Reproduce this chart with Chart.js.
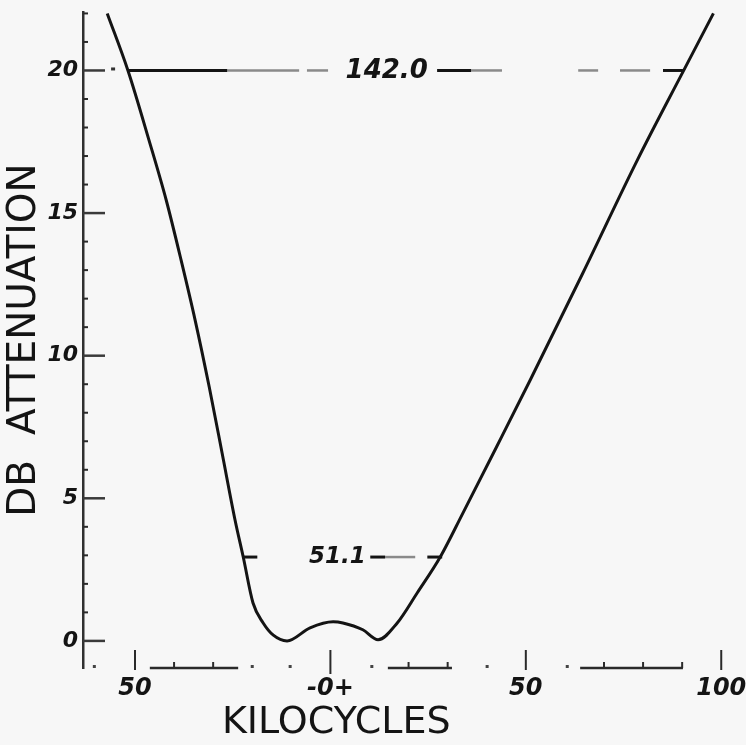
<!DOCTYPE html>
<html>
<head>
<meta charset="utf-8">
<title>DB attenuation vs kilocycles</title>
<script src="https://cdn.jsdelivr.net/npm/chart.js@4.4.1/dist/chart.umd.min.js"></script>
<style>
    html, body { margin: 0; padding: 0; background: #f7f7f7; }
    #wrap { position: relative; width: 746px; height: 745px; }
</style>
</head>
<body>
<div id="wrap"><canvas id="chart"></canvas></div>
<script>
(function () {
    'use strict';

    // ─── Data ────────────────────────────────────────────────────────────────
    // kilocycles off centre frequency / dB attenuation
    const curveKc = [-57.1, -51.8, -46.4, -42.0, -38.2, -34.6, -31.0, -27.7, -24.4, -22.3,
                     -19.8, -17.2, -14.6, -11.1, -5.2, 0.7, 3.2, 8.3, 12.2, 17.1,
                     22.2, 28.1, 33.9, 42.5, 51.1, 64.6, 78.5, 90.0, 98.0];
    const curveDb = [22.0, 20.0, 17.55, 15.45, 13.35, 11.24, 8.9, 6.58, 4.24, 2.94,
                     1.33, 0.63, 0.2, 0.0, 0.46, 0.67, 0.63, 0.39, 0.04, 0.63,
                     1.68, 2.94, 4.48, 6.8, 9.14, 12.9, 16.85, 19.9, 22.0];

    const xTickValues = [-50, 0, 50, 100];
    const xTickLabels = ['50', '-0+', '50', '100'];
    const xMinorTicks = [-40, -30, 20, 30, 70, 80, 90];
    const xAxisPieces = [[-46.2, -23.6], [14.7, 31.1], [63.9, 90.2]];
    const xAxisDots   = [-60.4, -20.0, -10.3, 10.6, 40.1, 60.6];

    const yTickValues  = [0, 1, 2, 3, 4, 5, 6, 7, 8, 9, 10, 11, 12, 13, 14, 15, 16, 17, 18, 19, 20, 21, 22];
    const yLabelValues = [0, 5, 10, 15, 20];

    // bandwidth markers
    const wideDb     = 20;
    const wideText   = '142.0';
    const wideTextKc = 14.4;
    const wideDark   = [[-51.8, -26.4], [27.3, 36.0], [85.1, 90.2]];
    const wideFaint  = [[-26.4, -8.0], [-6.0, -0.6], [36.0, 43.9], [63.4, 68.5], [74.1, 81.8]];

    const narrowDb     = 2.94;
    const narrowText   = '51.1';
    const narrowTextKc = 1.8;
    const narrowDark   = [[-22.3, -18.7], [10.2, 14.0], [24.8, 28.6]];
    const narrowFaint  = [[14.0, 21.7]];

    const X_MIN = -63.3, X_MAX = 104.8;
    const Y_MIN = -0.95, Y_MAX = 22.05;

    const INK   = '#141414';
    const FAINT = '#8a8a8a';
    const FONT  = "'DejaVu Sans', sans-serif";

    // ─── Hand-drawn bits: broken axis, inward ticks, markers ─────────────────
    function strokePieces(ctx, xs, yPix, pieces, color, width) {
        ctx.strokeStyle = color;
        ctx.lineWidth = width;
        pieces.forEach(p => {
            ctx.beginPath();
            ctx.moveTo(xs.getPixelForValue(p[0]), yPix);
            ctx.lineTo(xs.getPixelForValue(p[1]), yPix);
            ctx.stroke();
        });
    }

    const handDrawn = {
        id: 'handDrawn',
        afterDatasetsDraw(chart) {
            const { ctx, chartArea, scales: { x, y } } = chart;
            const base = chartArea.bottom;
            const left = chartArea.left;
            ctx.save();
            ctx.lineCap = 'butt';

            // kilocycle axis (only fragments survive)
            strokePieces(ctx, x, base, xAxisPieces, '#2a2a2a', 2.5);
            ctx.fillStyle = '#444';
            xAxisDots.forEach(k => ctx.fillRect(x.getPixelForValue(k) - 1.5, base - 3, 3, 3));

            ctx.strokeStyle = '#2a2a2a';
            ctx.lineWidth = 2;
            xTickValues.forEach(k => {
                const px = x.getPixelForValue(k);
                ctx.beginPath();
                ctx.moveTo(px, base - 18);
                ctx.lineTo(px, base + (k === 0 ? 6 : 2));
                ctx.stroke();
            });
            xMinorTicks.forEach(k => {
                const px = x.getPixelForValue(k);
                ctx.beginPath();
                ctx.moveTo(px, base - 6);
                ctx.lineTo(px, base);
                ctx.stroke();
            });

            // dB ticks pointing into the plot
            yTickValues.forEach(v => {
                const py = y.getPixelForValue(v);
                const major = yLabelValues.includes(v);
                ctx.strokeStyle = major ? '#3a3a3a' : '#2a2a2a';
                ctx.lineWidth = major ? 2.5 : 2;
                ctx.beginPath();
                ctx.moveTo(left, py);
                ctx.lineTo(left + (major ? 22 : 5), py);
                ctx.stroke();
            });

            // 142.0 kc at 20 dB
            const wy = y.getPixelForValue(wideDb);
            strokePieces(ctx, x, wy, wideFaint, FAINT, 2.5);
            strokePieces(ctx, x, wy, wideDark, INK, 3);
            ctx.fillStyle = '#333';
            ctx.fillRect(x.getPixelForValue(-55.6) - 2, wy - 3, 4, 3);

            // 51.1 kc at 3 dB
            const ny = y.getPixelForValue(narrowDb);
            strokePieces(ctx, x, ny, narrowFaint, FAINT, 2.5);
            strokePieces(ctx, x, ny, narrowDark, INK, 3);

            ctx.fillStyle = INK;
            ctx.textAlign = 'center';
            ctx.textBaseline = 'middle';
            ctx.font = 'italic bold 26px ' + FONT;
            ctx.fillText(wideText, x.getPixelForValue(wideTextKc), wy + 1);
            ctx.font = 'italic bold 23px ' + FONT;
            ctx.fillText(narrowText, x.getPixelForValue(narrowTextKc), ny);

            // x title
            ctx.font = '38px ' + FONT;
            ctx.fillText('KILOCYCLES', x.getPixelForValue(1.5), base + 55);
            ctx.restore();
        }
    };

    // ─── Chart ───────────────────────────────────────────────────────────────
    const points = curveKc.map((k, i) => ({ x: k, y: curveDb[i] }));

    new Chart(document.getElementById('chart'), {
        type: 'line',
        data: {
            datasets: [{
                label: 'Attenuation',
                data: points,
                borderColor: INK,
                borderWidth: 3,
                pointRadius: 0,
                fill: false,
                cubicInterpolationMode: 'monotone',
                clip: false,
            }],
        },
        options: {
            responsive: true,
            maintainAspectRatio: false,
            animation: false,
            layout: { padding: { top: 12, right: 6, bottom: 0, left: 0 } },
            plugins: { legend: { display: false }, tooltip: { enabled: false } },
            scales: {
                x: {
                    type: 'linear',
                    min: X_MIN,
                    max: X_MAX,
                    grid: { display: false, drawTicks: false },
                    border: { display: false },
                    afterBuildTicks: s => { s.ticks = xTickValues.map(v => ({ value: v })); },
                    afterFit: s => { s.height = 77; s.paddingLeft = 0; s.paddingRight = 0; },
                    ticks: {
                        autoSkip: false,
                        maxRotation: 0,
                        padding: 6,
                        color: INK,
                        font: { family: FONT, size: 24, style: 'italic', weight: 'bold' },
                        callback: (v, i) => xTickLabels[i],
                    },
                },
                y: {
                    type: 'linear',
                    min: Y_MIN,
                    max: Y_MAX,
                    grid: { display: false, drawTicks: false },
                    border: { display: true, color: '#303030', width: 2.5 },
                    afterBuildTicks: s => { s.ticks = yTickValues.map(v => ({ value: v })); },
                    afterFit: s => { s.width = 83; s.paddingTop = 0; s.paddingBottom = 0; },
                    ticks: {
                        autoSkip: false,
                        padding: 5,
                        color: INK,
                        font: { family: FONT, size: 22, style: 'italic', weight: 'bold' },
                        callback: v => (yLabelValues.includes(v) ? String(v) : ''),
                    },
                    title: {
                        display: true,
                        text: 'DB  ATTENUATION',
                        color: INK,
                        padding: { top: 1, bottom: 0 },
                        font: { family: FONT, size: 39 },
                    },
                },
            },
        },
        plugins: [handDrawn],
    });
})();
</script>
</body>
</html>
